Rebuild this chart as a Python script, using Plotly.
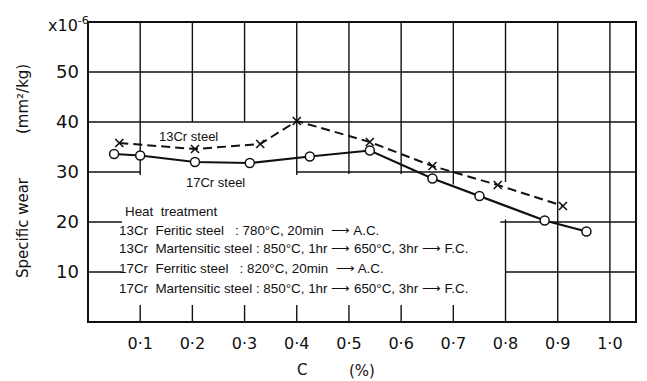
import plotly.graph_objects as go

# ---- data ----
cr13_c = [0.06, 0.205, 0.33, 0.40, 0.54, 0.66, 0.785, 0.91]
cr13_wear = [35.8, 34.6, 35.6, 40.2, 36.0, 31.2, 27.4, 23.2]

cr17_c = [0.05, 0.10, 0.205, 0.31, 0.425, 0.54, 0.66, 0.75, 0.875, 0.955]
cr17_wear = [33.6, 33.3, 32.0, 31.8, 33.1, 34.3, 28.7, 25.2, 20.3, 18.1]

x_tickvals = [0.1, 0.2, 0.3, 0.4, 0.5, 0.6, 0.7, 0.8, 0.9, 1.0]
x_ticktext = ["0·1", "0·2", "0·3", "0·4", "0·5", "0·6", "0·7", "0·8", "0·9", "1·0"]
y_tickvals = [10, 20, 30, 40, 50]
y_ticktext = ["10", "20", "30", "40", "50"]

heat_lines = [
    "Heat  treatment",
    "13Cr  Feritic steel   : 780°C, 20min  ⟶ A.C.",
    "13Cr  Martensitic steel : 850°C, 1hr ⟶ 650°C, 3hr ⟶ F.C.",
    "17Cr  Ferritic steel   : 820°C, 20min  ⟶ A.C.",
    "17Cr  Martensitic steel : 850°C, 1hr ⟶ 650°C, 3hr ⟶ F.C.",
]

# ---- layout geometry ----
W, H = 647, 381
L, R, T, B = 88, 636, 22, 322
X_RANGE = [0, 1.05]
Y_RANGE = [0, 60]

def px(xp):
    return (xp - L) / (R - L)

def py(yp):
    return (B - yp) / (B - T)

# broken grid (the chart's grid is interrupted where text sits)
h_grid = [  # (y, x0, x1)
    (50, 0, 1.05), (40, 0, 1.05),
    (30, 0, 0.10), (30, 0.40, 1.05),
    (20, 0, 0.065), (20, 0.79, 1.05),
    (10, 0, 0.065), (10, 0.80, 1.05),
]
v_grid = [  # (x, y0, y1)
    (0.1, 29.4, 60), (0.2, 40, 60), (0.3, 40, 60), (0.4, 29.4, 60),
    (0.5, 29.6, 60), (0.6, 29.6, 60), (0.7, 27.5, 60),
    (0.8, 28.0, 60), (0.8, 0, 20.5), (0.9, 0, 60), (1.0, 0, 60),
]
stub_x = [0.1, 0.2, 0.3, 0.4, 0.5, 0.6, 0.7]
STUB = 3.4

INK = "#111111"
FONT = "DejaVu Sans"
TFONT = "Liberation Sans"

fig = go.Figure()

fig.add_trace(go.Scatter(
    x=cr13_c, y=cr13_wear, mode="lines+markers", name="13Cr steel",
    line=dict(color=INK, width=2, dash="9px,5px"),
    marker=dict(symbol="x-thin-open", size=8, line=dict(color=INK, width=1.6)),
    showlegend=False,
))
fig.add_trace(go.Scatter(
    x=cr17_c, y=cr17_wear, mode="lines+markers", name="17Cr steel",
    line=dict(color=INK, width=2.2),
    marker=dict(symbol="circle", size=9, color="white", line=dict(color=INK, width=1.5)),
    showlegend=False,
))

shapes = []
gl = dict(color=INK, width=1.4)
for y, x0, x1 in h_grid:
    shapes.append(dict(type="line", xref="x", yref="y", x0=x0, x1=x1, y0=y, y1=y, line=gl, layer="below"))
for x, y0, y1 in v_grid:
    shapes.append(dict(type="line", xref="x", yref="y", x0=x, x1=x, y0=y0, y1=y1, line=gl, layer="below"))
for x in stub_x:
    shapes.append(dict(type="line", xref="x", yref="y", x0=x, x1=x, y0=0, y1=STUB, line=gl, layer="below"))
shapes.append(dict(type="rect", xref="paper", yref="paper", x0=0, x1=1, y0=0, y1=1,
                   line=dict(color=INK, width=2), layer="below"))


def note(text, x, y, size, family=FONT, xanchor="center", angle=0):
    return dict(text=text, xref="paper", yref="paper", x=px(x), y=py(y),
                xanchor=xanchor, yanchor="middle", textangle=angle, showarrow=False,
                font=dict(family=family, size=size, color=INK))


ann = [
    note("x10<sup>-6</sup>", 46, 24, 16, xanchor="left"),
    note("Specific wear", 23, 228, 15, angle=-90),
    note("(mm²/kg)", 23, 99, 15, angle=-90),
    note("C", 302, 370, 15),
    note("(%)", 362, 371, 15),
    note("13Cr steel", 188, 136, 13, family=TFONT),
    note("17Cr steel", 215, 182, 13, family=TFONT),
]
ht_y = [211, 230, 249, 268, 288]
for i, line in enumerate(heat_lines):
    ann.append(note(line.replace("  ", "\u00a0 "), 123 if i == 0 else 117, ht_y[i],
                    13.4, family=TFONT, xanchor="left"))

fig.update_layout(
    width=W, height=H,
    margin=dict(l=L, r=W - R, t=T, b=H - B),
    paper_bgcolor="white", plot_bgcolor="white",
    shapes=shapes, annotations=ann,
    xaxis=dict(range=X_RANGE, showgrid=False, zeroline=False, showline=False,
               tickvals=x_tickvals, ticktext=x_ticktext, ticks="",
               ticklabelstandoff=10,
               tickfont=dict(family=FONT, size=16, color=INK)),
    yaxis=dict(range=Y_RANGE, showgrid=False, zeroline=False, showline=False,
               tickvals=y_tickvals, ticktext=y_ticktext, ticks="",
               ticklabelstandoff=8,
               tickfont=dict(family=FONT, size=18, color=INK)),
)

fig.write_html("out.html", config={"displayModeBar": False},
               post_script="document.body.style.margin='0';")
